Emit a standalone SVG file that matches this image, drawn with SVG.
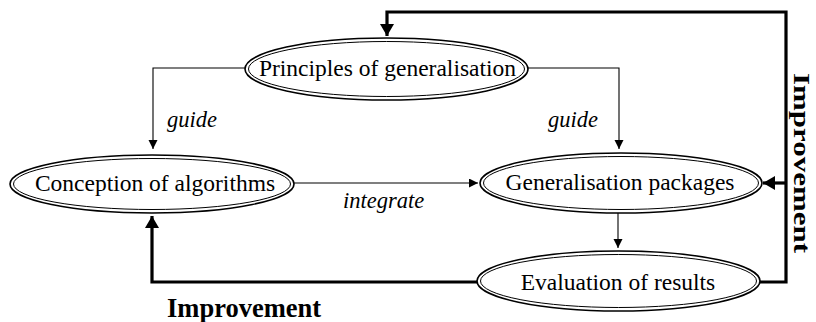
<svg xmlns="http://www.w3.org/2000/svg" width="816" height="322" viewBox="0 0 816 322">
  <style>
    .outer { fill: #fff; stroke: #000; stroke-width: 1.6; }
    .inner { fill: none; stroke: #000; stroke-width: 1; }
    .label { font-family: "Liberation Serif", "Times New Roman", serif; font-size: 23.5px; fill: #000; text-anchor: middle; }
    .edge { font-family: "Liberation Serif", "Times New Roman", serif; font-size: 22.5px; font-style: italic; fill: #000; }
    .bold { font-family: "Liberation Serif", "Times New Roman", serif; font-weight: bold; fill: #000; }
    .thin { fill: none; stroke: #000; stroke-width: 1.1; }
    .thick { fill: none; stroke: #000; stroke-width: 3.2; }
  </style>
  <defs>
    <marker id="arr" markerUnits="userSpaceOnUse" markerWidth="10" markerHeight="10" refX="9" refY="4.5" orient="auto">
      <path d="M0,0 L9,4.5 L0,9 z" fill="#000"/>
    </marker>
    <marker id="arrB" markerUnits="userSpaceOnUse" markerWidth="14" markerHeight="14" refX="12" refY="7" orient="auto">
      <path d="M0,0 L12,7 L0,14 z" fill="#000"/>
    </marker>
  </defs>

  <g id="connectors">
    <polyline class="thin" points="245,68 153,68 153,149" marker-end="url(#arr)"/>
    <polyline class="thin" points="528,68 619,68 619,149" marker-end="url(#arr)"/>
    <line class="thin" x1="293" y1="183" x2="478" y2="183" marker-end="url(#arr)"/>
    <line class="thin" x1="618" y1="213" x2="618" y2="248" marker-end="url(#arr)"/>
    <polyline class="thick" points="477,282 152,282 152,216" marker-end="url(#arrB)"/>
    <polyline class="thick" points="760,282 786,282 786,12 387,12 387,36" marker-end="url(#arrB)"/>
    <line class="thick" x1="786" y1="183" x2="763" y2="183" marker-end="url(#arrB)"/>
    <text class="edge" x="167" y="127">guide</text>
    <text class="edge" x="548" y="127">guide</text>
    <text class="edge" x="343" y="208">integrate</text>
    <text class="bold" x="167" y="317" font-size="26.5">Improvement</text>
    <text class="bold" transform="translate(794,73) rotate(90)" font-size="23" textLength="180" lengthAdjust="spacingAndGlyphs">Improvement</text>
  </g>

  <g id="principles">
    <ellipse class="outer" cx="386.5" cy="69" rx="141.5" ry="31"/>
    <ellipse class="inner" cx="386.5" cy="69" rx="138" ry="27.5"/>
    <text class="label" x="387.5" y="76">Principles of generalisation</text>
  </g>

  <g id="conception">
    <ellipse class="outer" cx="152" cy="184" rx="142" ry="29"/>
    <ellipse class="inner" cx="152" cy="184" rx="138.5" ry="25.5"/>
    <text class="label" x="155" y="191">Conception of algorithms</text>
  </g>

  <g id="packages">
    <ellipse class="outer" cx="621" cy="183" rx="141" ry="30"/>
    <ellipse class="inner" cx="621" cy="183" rx="137.5" ry="26.5"/>
    <text class="label" x="620" y="190">Generalisation packages</text>
  </g>

  <g id="evaluation">
    <ellipse class="outer" cx="618.5" cy="281" rx="141.5" ry="30"/>
    <ellipse class="inner" cx="618.5" cy="281" rx="138" ry="26.5"/>
    <text class="label" x="618" y="290">Evaluation of results</text>
  </g>
</svg>
